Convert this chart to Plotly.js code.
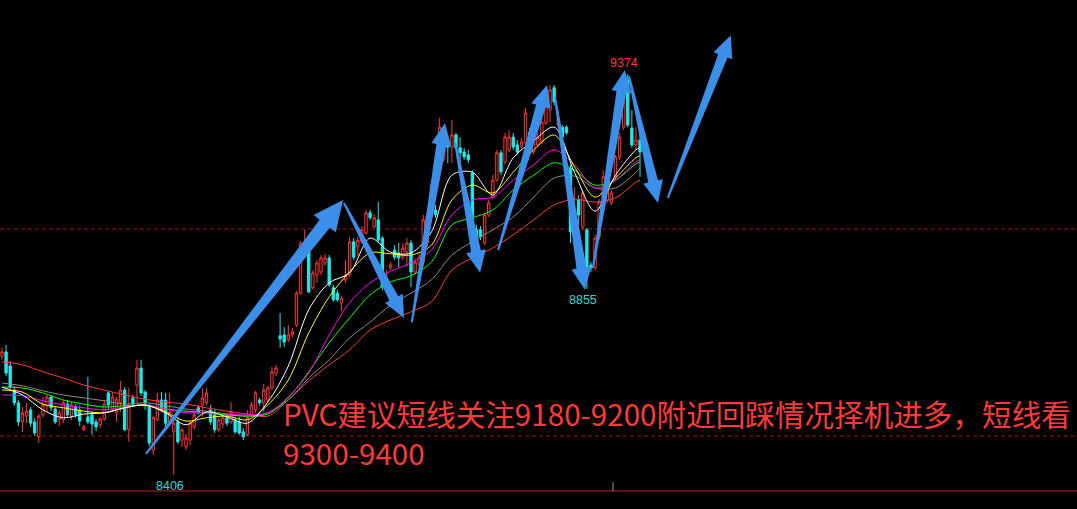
<!DOCTYPE html>
<html><head><meta charset="utf-8">
<script src="https://cdn.plot.ly/plotly-3.0.1.min.js"></script>
<style>html,body{margin:0;padding:0;background:#000;overflow:hidden}#chart{width:1077px;height:509px}</style>
</head><body><div id="chart"></div>
<script>
// ---- data ----
const opens = [8693,8703,8669,8611,8580,8534,8548,8563,8534,8498,8551,8573,8594,8565,8541,8539,8577,8548,8570,8563,
8515,8546,8551,8534,8527,8541,8604,8563,8556,8580,8611,8515,8592,8623,8664,8606,8570,8466,8539,8587,
8587,8534,8510,8534,8490,8474,8490,8522,8568,8575,8580,8563,8551,8515,8529,8544,8534,8539,8534,8510,
8503,8551,8563,8587,8580,8587,8616,8652,8742,8744,8732,8744,8768,8845,8957,8949,8858,8889,8896,8918,
8930,8858,8845,8821,8877,8889,8969,8957,8969,8990,9039,9005,9022,8978,8870,8906,8949,8942,8932,8944,
8966,8896,8915,8920,8966,9039,9046,9171,9167,9215,9198,9227,9196,9186,9179,9135,8998,8998,8966,9034,
9077,9118,9184,9162,9191,9222,9203,9198,9208,9234,9186,9203,9210,9256,9287,9341,9251,9246,9246,9147,
8990,9070,9005,8998,8913,8906,8981,9053,9070,9063,9126,9174,9246,9360,9244,9203,9215];
const highs = [8713,8720,8681,8621,8587,8570,8580,8570,8544,8553,8594,8599,8599,8573,8563,8587,8587,8582,8577,8573,
8527,8643,8560,8541,8546,8587,8609,8606,8594,8633,8618,8616,8599,8684,8684,8611,8577,8548,8604,8606,
8604,8604,8539,8546,8519,8505,8536,8558,8575,8616,8616,8575,8563,8544,8551,8551,8582,8546,8546,8519,
8563,8582,8609,8592,8626,8621,8667,8672,8797,8763,8768,8761,8850,8971,8998,8957,8901,8925,8937,8940,
8937,8865,8853,8838,8925,8981,8978,8981,9007,9046,9046,9036,9065,8983,8901,8920,8961,8966,8966,8978,
8973,8930,8942,9034,9041,9118,9058,9268,9234,9220,9263,9232,9222,9196,9191,9142,9010,9007,9039,9070,
9130,9191,9191,9232,9239,9232,9215,9220,9292,9244,9227,9232,9268,9312,9348,9348,9275,9251,9251,9155,
9101,9082,9094,9002,8920,8986,9072,9142,9106,9094,9179,9232,9316,9374,9287,9246,9246];
const lows = [8684,8645,8614,8573,8524,8510,8531,8522,8500,8483,8544,8558,8560,8529,8524,8531,8544,8539,8544,8524,
8512,8529,8503,8512,8519,8536,8563,8558,8534,8558,8512,8486,8570,8580,8597,8563,8474,8454,8536,8558,
8524,8529,8406,8481,8474,8466,8478,8515,8551,8546,8575,8527,8507,8510,8519,8524,8529,8505,8503,8490,
8500,8546,8556,8573,8558,8582,8611,8645,8713,8715,8727,8737,8763,8841,8952,8845,8853,8870,8889,8911,
8860,8824,8824,8802,8870,8884,8925,8935,8964,8986,9022,9002,8966,8853,8865,8901,8925,8908,8925,8908,
8860,8891,8911,8911,8957,9034,9027,9150,9162,9159,9159,9191,9159,9167,9159,8966,8959,8973,8961,9029,
9072,9114,9130,9155,9186,9191,9179,9191,9203,9215,9179,9198,9205,9251,9258,9299,9246,9215,9227,8966,
8957,9010,8998,8855,8896,8901,8973,9046,9063,9058,9118,9167,9239,9246,9196,9191,9126];
const closes = [8703,8652,8618,8580,8534,8556,8560,8531,8507,8548,8575,8594,8568,8534,8556,8580,8551,8575,8551,8536,
8522,8534,8529,8522,8541,8577,8575,8594,8589,8611,8515,8575,8577,8664,8604,8580,8483,8544,8587,8563,
8531,8558,8531,8486,8515,8495,8531,8551,8558,8592,8604,8534,8515,8539,8544,8531,8558,8510,8507,8498,
8544,8575,8604,8580,8611,8616,8655,8664,8734,8727,8744,8751,8845,8966,8969,8848,8894,8918,8930,8930,
8865,8829,8829,8833,8889,8969,8932,8973,8998,9039,9027,9027,8973,8860,8884,8913,8932,8930,8954,8966,
8896,8920,8932,9022,9034,9106,9034,9246,9208,9198,9227,9196,9184,9174,9167,8990,8973,8981,9034,9063,
9118,9184,9138,9222,9222,9198,9186,9210,9280,9222,9220,9222,9258,9304,9336,9307,9268,9222,9232,8993,
9046,9034,9087,8908,8906,8978,9065,9126,9101,9087,9174,9222,9307,9251,9203,9215,9186];
const candleIndex = opens.map((_, i) => i);

// moving averages, read at every fifth bar
const maIndex = [0,5,10,15,20,25,30,35,40,45,50,55,60,65,70,75,80,85,90,95,100,105,110,115,120,125,130,135,140,145,150,155,156];
const ma5   = [8618,8599,8563,8544,8553,8556,8568,8575,8556,8527,8558,8546,8531,8582,8669,8805,8870,8894,8978,8944,8942,8993,9130,9137,9082,9172,9213,9246,9136,9043,9130,9191,9196];
const ma10  = [8611,8606,8577,8568,8560,8556,8568,8575,8558,8536,8544,8548,8539,8575,8635,8749,8836,8896,8942,8940,8937,8961,9070,9106,9087,9137,9191,9227,9150,9077,9123,9172,9177];
const ma20  = [8599,8597,8585,8575,8568,8563,8570,8575,8565,8556,8556,8553,8551,8556,8594,8652,8744,8822,8870,8898,8918,8949,9034,9070,9077,9118,9155,9191,9155,9099,9118,9162,9167];
const ma30  = [8618,8616,8604,8587,8577,8570,8573,8573,8565,8560,8556,8551,8548,8553,8592,8655,8725,8785,8841,8872,8887,8920,9010,9027,9046,9094,9130,9160,9142,9106,9118,9157,9162];
const ma60  = [8628,8621,8609,8599,8592,8585,8577,8580,8573,8565,8560,8553,8548,8556,8587,8640,8684,8737,8775,8816,8845,8877,8937,8969,8998,9029,9077,9123,9128,9099,9099,9137,9147];
const ma120 = [8679,8672,8655,8640,8623,8611,8599,8589,8582,8577,8568,8560,8553,8548,8587,8633,8672,8708,8756,8780,8800,8824,8901,8930,8954,8986,9022,9058,9072,9065,9075,9113,9118];

// drawn arrows: [fromBar, fromPrice, toBar, toPrice]
const arrowFrom = [[35.2,8457],[83.6,9063],[100.2,8775],[110.8,9208],[121.3,8949],[135.2,9319],[144.5,8906],[153.3,9369],[162.8,9075]];
const arrowTo   = [[83.4,9070],[98.3,8785],[108.3,9256],[116.9,8894],[133.3,9348],[142.5,8853],[152.3,9384],[160.4,9063],[178.2,9468]];

const levelLines = [9000, 8500];
const extremeLabels = [{bar:42, price:8406, text:'8406', kind:'low'},
                       {bar:143, price:8855, text:'8855', kind:'low'},
                       {bar:153, price:9374, text:'9374', kind:'high'}];
const noteLines = ['PVC建议短线关注9180-9200附近回踩情况择机进多，短线看', '9300-9400'];

// ---- drawing ----
const W = 1077, H = 509;
const XR = [-0.489, 262.84], YR = [8323.6, 9553.1];
const px = i => (i - XR[0]) / (XR[1] - XR[0]) * W;
const py = p => (YR[1] - p) / (YR[1] - YR[0]) * H;
const dx = X => XR[0] + X / W * (XR[1] - XR[0]);
const dy = Y => YR[1] - Y / H * (YR[1] - YR[0]);

function arrowPath(a, b, big) {
  const hl = big ? 30 : 22, hw = big ? 14 : 10, sw = big ? 6.5 : 5, tw = 1;
  const x0 = px(a[0]), y0 = py(a[1]), x1 = px(b[0]), y1 = py(b[1]);
  const L = Math.hypot(x1 - x0, y1 - y0);
  const ux = (x1 - x0) / L, uy = (y1 - y0) / L, nx = -uy, ny = ux;
  const bx = x1 - ux * hl, by = y1 - uy * hl;
  const pts = [[x0 + nx * tw, y0 + ny * tw], [bx + nx * sw, by + ny * sw], [bx + nx * hw, by + ny * hw], [x1, y1],
               [bx - nx * hw, by - ny * hw], [bx - nx * sw, by - ny * sw], [x0 - nx * tw, y0 - ny * tw]];
  return 'M' + pts.map(p => dx(p[0]).toFixed(3) + ',' + dy(p[1]).toFixed(2)).join('L') + 'Z';
}

const traces = [];
const maDefs = [[ma120,'#ff3b3b'],[ma60,'#8c8c8c'],[ma30,'#00ff00'],[ma20,'#ff00ff'],[ma10,'#ffff00'],[ma5,'#ffffff']];
traces.push({type:'candlestick', x:candleIndex, open:opens, high:highs, low:lows, close:closes,
  increasing:{line:{color:'#ff3434', width:1}, fillcolor:'#000000'},
  decreasing:{line:{color:'#1ee8e8', width:1}, fillcolor:'#1ee8e8'},
  whiskerwidth:0, hoverinfo:'skip'});
maDefs.forEach(([v, c]) => traces.push({type:'scatter', mode:'lines', x:maIndex, y:v,
  line:{color:c, width:1, shape:'spline', smoothing:0.9}, hoverinfo:'skip'}));

const shapes = [];
levelLines.forEach(v => shapes.push({type:'line', xref:'paper', x0:0, x1:1, yref:'y', y0:v, y1:v,
  line:{color:'#a3141c', width:1, dash:'4px,3px'}, layer:'below'}));
shapes.push({type:'line', xref:'paper', x0:0, x1:1, yref:'paper', y0:1-491/H, y1:1-491/H, line:{color:'#c0201c', width:1}});
shapes.push({type:'line', xref:'paper', x0:613/W, x1:613/W, yref:'paper', y0:1-491/H, y1:1-482/H, line:{color:'#9a9a9a', width:1}});
arrowFrom.forEach((a, k) => shapes.push({type:'path', xref:'x', yref:'y', path:arrowPath(a, arrowTo[k], k === 0),
  fillcolor:'#3b8fe8', line:{width:0}}));

const annotations = extremeLabels.map(l => ({x:l.bar, y:l.price, xref:'x', yref:'y', text:l.text, showarrow:false,
  xanchor:'center', yanchor: l.kind === 'low' ? 'top' : 'bottom', yshift: l.kind === 'low' ? -2 : 2, xshift:-4,
  font:{family:'Liberation Sans, Arial', size:12.5, color: l.kind === 'low' ? '#2ad8d8' : '#ff3838'}}));
noteLines.forEach((t, k) => annotations.push({xref:'paper', yref:'paper', x:282/W, y:1-(391 + 39 * k)/H,
  xanchor:'left', yanchor:'top', align:'left', showarrow:false, text:t, borderpad:0,
  font:{family:'Noto Sans CJK SC', size:29.6, color:'#ff3a3a'}}));

Plotly.newPlot('chart', traces, {
  width:W, height:H, margin:{l:0, r:0, t:0, b:0}, paper_bgcolor:'#000', plot_bgcolor:'#000', showlegend:false,
  boxgap:0.18,
  xaxis:{range:XR, showgrid:false, zeroline:false, showticklabels:false, showline:false, ticks:'', rangeslider:{visible:false}, fixedrange:true},
  yaxis:{range:YR, showgrid:false, zeroline:false, showticklabels:false, showline:false, ticks:'', fixedrange:true},
  shapes:shapes, annotations:annotations, hovermode:false
}, {displayModeBar:false, staticPlot:true});
</script></body></html>
